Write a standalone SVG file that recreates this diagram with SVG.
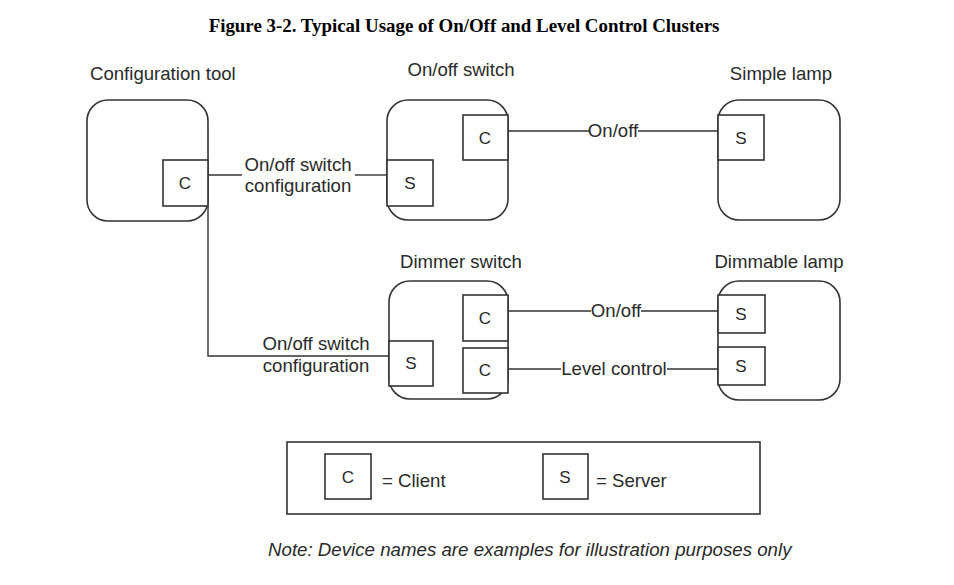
<svg xmlns="http://www.w3.org/2000/svg" width="954" height="585" viewBox="0 0 954 585">
<style>
.dev{fill:none;stroke:#333;stroke-width:1.6}
.cl{fill:#fff;stroke:#333;stroke-width:1.6}
.ln{fill:none;stroke:#333;stroke-width:1.4}
.t{font-family:"Liberation Sans",Arial,sans-serif;font-size:18.6px;fill:#2a2a2a}
.lt{font-family:"Liberation Sans",Arial,sans-serif;font-size:18.6px;fill:#2a2a2a;text-anchor:middle}
.b{font-family:"Liberation Sans",Arial,sans-serif;font-size:17px;fill:#2a2a2a;text-anchor:middle}
.title{font-family:"Liberation Serif","Times New Roman",serif;font-weight:bold;font-size:18.9px;fill:#000;text-anchor:middle}
.note{font-family:"Liberation Sans",Arial,sans-serif;font-style:italic;font-size:18.7px;fill:#2a2a2a}
</style>
<rect width="954" height="585" fill="#fff"/>
<text class="title" x="464" y="32">Figure 3-2. Typical Usage of On/Off and Level Control Clusters</text>

<g id="connectors">
<line class="ln" x1="208" y1="175" x2="242" y2="175"/>
<line class="ln" x1="355" y1="175" x2="387" y2="175"/>
<polyline class="ln" points="208,206 208,356 389,356"/>
<line class="ln" x1="508" y1="131" x2="589" y2="131"/>
<line class="ln" x1="638" y1="131" x2="718" y2="131"/>
<line class="ln" x1="508" y1="311" x2="591" y2="311"/>
<line class="ln" x1="641" y1="311" x2="718" y2="311"/>
<line class="ln" x1="508" y1="369" x2="561" y2="369"/>
<line class="ln" x1="667" y1="369" x2="718" y2="369"/>
<text class="t" x="298" y="171" text-anchor="middle">On/off switch</text>
<text class="t" x="298" y="192" text-anchor="middle">configuration</text>
<text class="t" x="316" y="350" text-anchor="middle">On/off switch</text>
<text class="t" x="316" y="372" text-anchor="middle">configuration</text>
<text class="lt" x="613" y="137">On/off</text>
<text class="lt" x="616" y="317">On/off</text>
<text class="lt" x="614" y="375">Level control</text>
</g>

<g id="config-tool">
<text class="t" x="90" y="80">Configuration tool</text>
<rect class="dev" x="87" y="100" width="121" height="121" rx="21"/>
<rect class="cl" x="163" y="160" width="45" height="46"/>
<text class="b" x="185" y="189">C</text>
</g>

<g id="onoff-switch">
<text class="t" x="461" y="76" text-anchor="middle">On/off switch</text>
<rect class="dev" x="387" y="100" width="121" height="120" rx="21"/>
<rect class="cl" x="463" y="115" width="45" height="45"/>
<text class="b" x="485" y="144">C</text>
<rect class="cl" x="387" y="160" width="46" height="46"/>
<text class="b" x="410" y="189">S</text>
</g>

<g id="simple-lamp">
<text class="t" x="781" y="80" text-anchor="middle">Simple lamp</text>
<rect class="dev" x="718" y="100" width="122" height="120" rx="21"/>
<rect class="cl" x="718" y="115" width="46" height="45"/>
<text class="b" x="741" y="144">S</text>
</g>

<g id="dimmer-switch">
<text class="t" x="461" y="268" text-anchor="middle">Dimmer switch</text>
<rect class="dev" x="389" y="281" width="119" height="118" rx="21"/>
<rect class="cl" x="463" y="295" width="45" height="46"/>
<text class="b" x="485" y="324">C</text>
<rect class="cl" x="463" y="348" width="45" height="45"/>
<text class="b" x="485" y="376">C</text>
<rect class="cl" x="389" y="341" width="44" height="45"/>
<text class="b" x="411" y="369">S</text>
</g>

<g id="dimmable-lamp">
<text class="t" x="779" y="268" text-anchor="middle">Dimmable lamp</text>
<rect class="dev" x="718" y="281" width="122" height="119" rx="21"/>
<rect class="cl" x="718" y="295" width="47" height="38"/>
<text class="b" x="741" y="320">S</text>
<rect class="cl" x="718" y="347" width="47" height="38"/>
<text class="b" x="741" y="372">S</text>
</g>

<g id="legend">
<rect class="dev" x="287" y="442" width="473" height="72"/>
<rect class="cl" x="325" y="454" width="46" height="45"/>
<text class="b" x="348" y="483">C</text>
<text class="t" x="382" y="487">= Client</text>
<rect class="cl" x="543" y="454" width="45" height="45"/>
<text class="b" x="565" y="483">S</text>
<text class="t" x="596" y="487">= Server</text>
</g>

<text class="note" x="268" y="556">Note: Device names are examples for illustration purposes only</text>
</svg>
